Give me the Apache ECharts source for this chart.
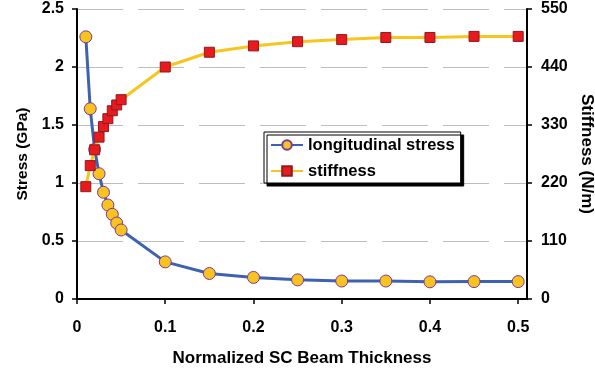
<!DOCTYPE html>
<html>
<head>
<meta charset="utf-8">
<script src="https://cdn.jsdelivr.net/npm/echarts@6/dist/echarts.min.js"></script>
<style>
  html, body { margin: 0; padding: 0; background: #fff; }
  #chart { width: 595px; height: 370px; }
</style>
</head>
<body>
<div id="chart"></div>
<script>
// Normalized SC beam thickness (x values)
const thickness = [0.01, 0.015, 0.02, 0.025, 0.03, 0.035, 0.04, 0.045, 0.05,
                   0.1, 0.15, 0.2, 0.25, 0.3, 0.35, 0.4, 0.45, 0.5];
// Longitudinal stress (GPa), left axis
const stress = [2.26, 1.64, 1.29, 1.08, 0.92, 0.81, 0.73, 0.655, 0.595,
                0.32, 0.22, 0.186, 0.165, 0.155, 0.155, 0.148, 0.15, 0.15];
// Stiffness (N/m), right axis
const stiffness = [213, 253, 283, 307, 327, 342, 357, 368, 378,
                   440, 468, 480, 488, 492, 496, 496, 498, 498];
// Tick values on the thickness axis
const xTicks = [0, 0.1, 0.2, 0.3, 0.4, 0.5];

const FONT = '"Liberation Sans", Arial, sans-serif';
const pair = (xs, ys) => xs.map((x, i) => [x, ys[i]]);
const bold = (size) => ({ color: '#000', fontFamily: FONT, fontWeight: 'bold', fontSize: size });

const chart = echarts.init(document.getElementById('chart'), null, { renderer: 'canvas' });

chart.setOption({
  animation: false,
  backgroundColor: '#fff',
  grid: { left: 77, right: 68, top: 9, bottom: 71, containLabel: false, outerBoundsMode: 'none' },
  legend: {
    orient: 'vertical',
    left: 264,
    top: 132,
    padding: [3, 6, 2, 6],
    itemGap: 6,
    itemWidth: 32,
    itemHeight: 12,
    backgroundColor: '#fff',
    borderColor: '#000',
    borderWidth: 1,
    shadowColor: '#000',
    shadowBlur: 0,
    shadowOffsetX: 3,
    shadowOffsetY: 3,
    textStyle: Object.assign({ lineHeight: 20 }, bold(16.5)),
    data: ['longitudinal stress', 'stiffness']
  },
  xAxis: {
    type: 'value',
    min: 0,
    max: 0.51,
    interval: 0.1,
    name: 'Normalized SC Beam Thickness',
    nameLocation: 'middle',
    nameGap: 51,
    nameTextStyle: bold(17),
    axisLine: { show: true, lineStyle: { color: '#000', width: 2 } },
    axisTick: { show: true, length: 5, lineStyle: { color: '#000', width: 1.5 }, customValues: xTicks },
    axisLabel: Object.assign({ margin: 21, customValues: xTicks }, bold(16)),
    splitLine: { show: false }
  },
  yAxis: [
    {
      type: 'value',
      min: 0,
      max: 2.5,
      interval: 0.5,
      name: 'Stress (GPa)',
      nameLocation: 'middle',
      nameGap: 45,
      nameTextStyle: bold(15.5),
      axisLine: { show: true, lineStyle: { color: '#000', width: 2 } },
      axisTick: { show: true, length: 5, lineStyle: { color: '#000', width: 1.5 } },
      axisLabel: Object.assign({ margin: 13 }, bold(16)),
      splitLine: { show: true, lineStyle: { color: '#BDBDBD', width: 1, type: [46, 15] } }
    },
    {
      type: 'value',
      min: 0,
      max: 550,
      interval: 110,
      position: 'right',
      name: 'Stiffness (N/m)',
      nameLocation: 'middle',
      nameRotate: -90,
      nameGap: 47,
      nameTextStyle: bold(17),
      axisLine: { show: true, lineStyle: { color: '#000', width: 2 } },
      axisTick: { show: true, length: 5, lineStyle: { color: '#000', width: 1.5 } },
      axisLabel: Object.assign({ margin: 14 }, bold(16)),
      splitLine: { show: false }
    }
  ],
  series: [
    {
      name: 'longitudinal stress',
      type: 'line',
      yAxisIndex: 0,
      data: pair(thickness, stress),
      symbol: 'circle',
      symbolSize: 12,
      z: 2,
      lineStyle: { color: '#3F62B0', width: 3 },
      itemStyle: { color: '#F8C31F', borderColor: '#7A3A98', borderWidth: 1 }
    },
    {
      name: 'stiffness',
      type: 'line',
      yAxisIndex: 1,
      data: pair(thickness, stiffness),
      symbol: 'rect',
      symbolSize: 10,
      z: 3,
      lineStyle: { color: '#F7C520', width: 3 },
      itemStyle: { color: '#E8191F', borderColor: '#8E1C1C', borderWidth: 1 }
    }
  ]
});
</script>
</body>
</html>
